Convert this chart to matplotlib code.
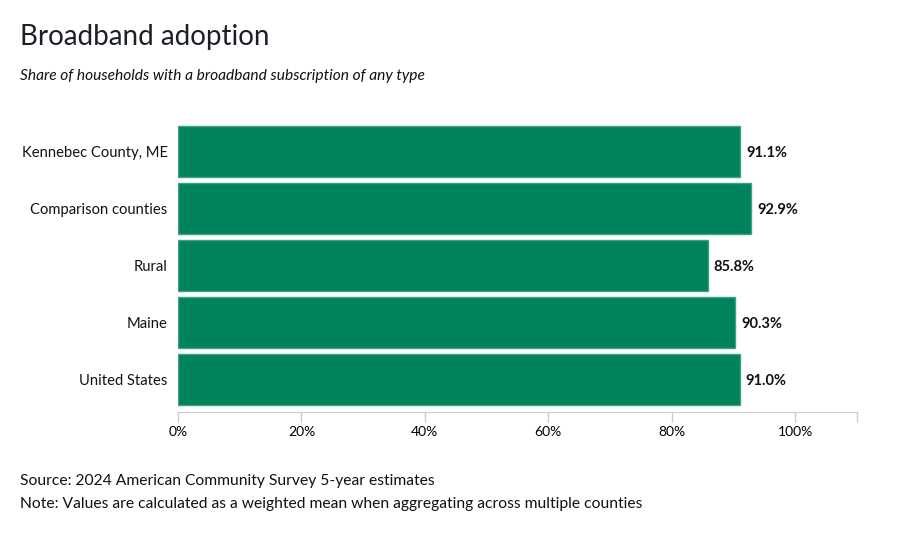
import matplotlib
matplotlib.use("Agg")
import matplotlib.pyplot as plt
from matplotlib.ticker import FixedLocator

categories = ["Kennebec County, ME", "Comparison counties", "Rural", "Maine", "United States"]
values = [91.1, 92.9, 85.8, 90.3, 91.0]
tick_values = [0, 20, 40, 60, 80, 100]
tick_labels = ["0%", "20%", "40%", "60%", "80%", "100%"]

plt.rcParams['font.family'] = ['Lato', 'DejaVu Sans']

W, H = 900, 536
fig = plt.figure(figsize=(W / 100, H / 100), dpi=100)
ax_top, ax_bot = 120.15, 410.85
ax = fig.add_axes([178 / W, 1 - ax_bot / H, (857 - 178) / W, (ax_bot - ax_top) / H])

ypos = list(range(len(categories)))
ax.barh(ypos, values, height=0.895, color="#00825C", edgecolor="#3FA383", linewidth=1.0)
ax.set_ylim(len(categories) - 0.45, -0.55)
ax.set_xlim(0, 110)

for y, v in zip(ypos, values):
    ax.text(v + 0.9, y + 0.03, f"{v:.1f}%", va="center", ha="left", fontsize=10.5,
            fontweight="bold", color="#111111")

ax.set_yticks(ypos)
ax.set_yticklabels(categories, fontsize=10.6, color="#111111")
ax.tick_params(axis="y", length=0, pad=7.5)

ax.set_xticks(tick_values)
ax.set_xticklabels(tick_labels, fontsize=11, color="#111111")
ax.xaxis.set_minor_locator(FixedLocator([110]))
ax.tick_params(axis="x", which="both", length=7.5, color="#CCCCCC", width=1, pad=2.5)

for s in ["top", "right", "left"]:
    ax.spines[s].set_visible(False)
ax.spines["bottom"].set_color("#CCCCCC")
ax.spines["bottom"].set_position(("outward", 1))

fig.text(20 / W, 1 - 37 / H, "Broadband adoption", fontsize=20, color="#1A2026",
         va="center", ha="left")
fig.text(20 / W, 1 - 76 / H, "Share of households with a broadband subscription of any type",
         fontsize=11.15, style="italic", color="#111111", va="center", ha="left")
fig.text(20 / W, 1 - 481 / H, "Source: 2024 American Community Survey 5-year estimates",
         fontsize=11.25, color="#111111", va="center", ha="left")
fig.text(20 / W, 1 - 504 / H,
         "Note: Values are calculated as a weighted mean when aggregating across multiple counties",
         fontsize=11.25, color="#111111", va="center", ha="left")

fig.savefig("out.png", dpi=100)
